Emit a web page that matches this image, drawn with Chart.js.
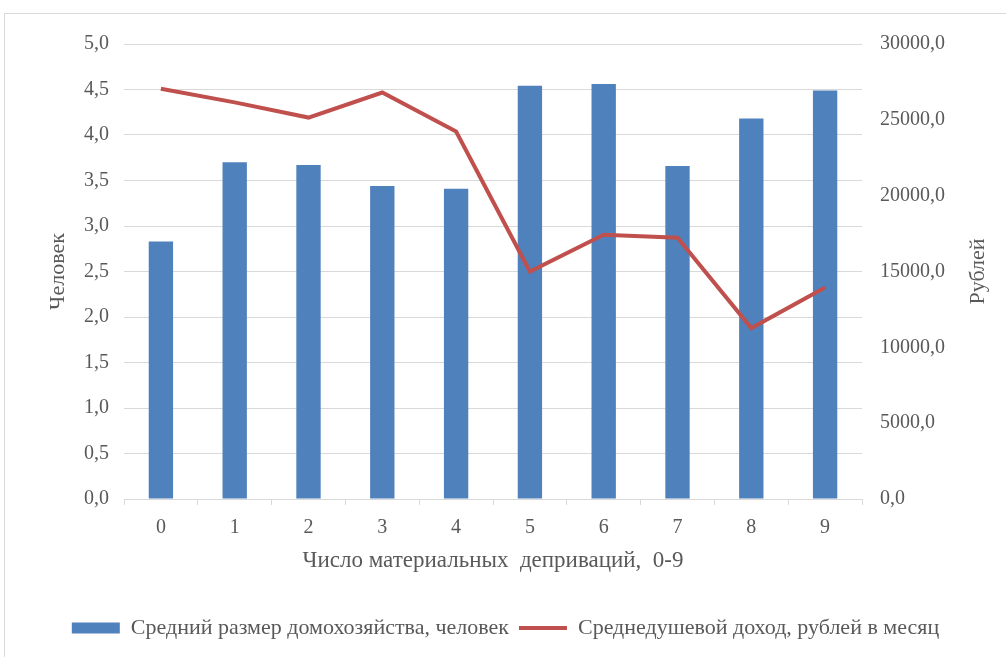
<!DOCTYPE html>
<html>
<head>
<meta charset="utf-8">
<script src="https://cdn.jsdelivr.net/npm/chart.js@4/dist/chart.umd.min.js"></script>
<style>
  html, body { margin: 0; padding: 0; background: #fff; overflow: hidden; }
  #frame {
    position: absolute; left: 4px; top: 13px; width: 1010px; height: 660px;
    border: 1px solid #d9d9d9; box-sizing: border-box;
  }
  #wrap { position: absolute; left: 5px; top: 14px; width: 1001px; height: 643px; }
</style>
</head>
<body>
<div id="frame"></div>
<div id="wrap"><canvas id="chart"></canvas></div>
<script>
  // число депривраций 0-9
  const categories = ['0', '1', '2', '3', '4', '5', '6', '7', '8', '9'];
  const householdSize = [2.83, 3.70, 3.67, 3.44, 3.41, 4.54, 4.56, 3.66, 4.18, 4.49];
  const incomePerCapita = [27050, 26150, 25150, 26800, 24230, 15000, 17420, 17230, 11270, 13950];
  const leftTicks = [0, 0.5, 1, 1.5, 2, 2.5, 3, 3.5, 4, 4.5, 5];
  const rightTicks = [0, 5000, 10000, 15000, 20000, 25000, 30000];

  const serif = '"Liberation Serif", "Times New Roman", serif';
  const grey = '#595959';
  const fmt = v => v.toFixed(1).replace('.', ',');

  // chart.js rotates a right-hand title clockwise, the original reads bottom-up
  const rightTitle = {
    id: 'rightTitle',
    afterDraw(chart) {
      const ctx = chart.ctx;
      const area = chart.chartArea;
      ctx.save();
      ctx.translate(973, (area.top + area.bottom) / 2);
      ctx.rotate(-Math.PI / 2);
      ctx.fillStyle = grey;
      ctx.font = '22px ' + serif;
      ctx.textAlign = 'center';
      ctx.textBaseline = 'middle';
      ctx.fillText('Рублей', 0, 0);
      ctx.restore();
    }
  };

  new Chart(document.getElementById('chart'), {
    type: 'bar',
    data: {
      labels: categories,
      datasets: [
        {
          type: 'bar',
          label: 'Средний размер домохозяйства, человек',
          data: householdSize,
          backgroundColor: '#4f81bd',
          borderWidth: 0,
          barPercentage: 0.66,
          categoryPercentage: 0.5,
          pointStyle: 'rect',
          yAxisID: 'y',
          order: 1
        },
        {
          type: 'line',
          label: 'Среднедушевой доход, рублей в месяц',
          data: incomePerCapita,
          borderColor: '#c0504d',
          backgroundColor: '#c0504d',
          borderWidth: 4,
          pointRadius: 0,
          pointStyle: 'line',
          tension: 0,
          yAxisID: 'y1',
          order: 0
        }
      ]
    },
    options: {
      responsive: true,
      maintainAspectRatio: false,
      animation: false,
      layout: { padding: { left: 0, right: 0, top: 27, bottom: 8 } },
      plugins: {
        tooltip: { enabled: false },
        legend: {
          position: 'bottom',
          labels: {
            usePointStyle: true,
            pointStyleWidth: 48,
            boxHeight: 11,
            padding: 10,
            color: grey,
            font: { family: serif, size: 22 },
            sort: (a, b) => a.datasetIndex - b.datasetIndex
          }
        }
      },
      scales: {
        x: {
          offset: true,
          grid: { offset: true, drawOnChartArea: false, drawTicks: true, tickLength: 6, color: '#d9d9d9' },
          border: { display: true, color: '#d9d9d9' },
          ticks: { color: grey, font: { family: serif, size: 20 }, padding: 11 },
          title: {
            display: true, text: 'Число материальных  деприваций,  0-9',
            color: grey, font: { family: serif, size: 23 }, padding: { top: 0, bottom: 32 }
          },
          afterFit: s => { s.height = 108; }
        },
        y: {
          position: 'left',
          min: 0, max: 5,
          afterBuildTicks: s => { s.ticks = leftTicks.map(v => ({ value: v })); },
          grid: { color: '#d9d9d9', drawTicks: false },
          border: { display: false },
          ticks: { color: grey, font: { family: serif, size: 20 }, padding: 15, callback: v => fmt(v) },
          title: {
            display: true, text: 'Человек',
            color: grey, font: { family: serif, size: 22 }, padding: { top: 40, bottom: 0 }
          },
          afterFit: s => { s.width = 119; }
        },
        y1: {
          position: 'right',
          min: 0, max: 30000,
          afterBuildTicks: s => { s.ticks = rightTicks.map(v => ({ value: v })); },
          grid: { drawOnChartArea: false, drawTicks: false },
          border: { display: false },
          ticks: { color: grey, font: { family: serif, size: 20 }, padding: 18, callback: v => fmt(v) },
          afterFit: s => { s.width = 144; }
        }
      }
    },
    plugins: [rightTitle]
  });
</script>
</body>
</html>
